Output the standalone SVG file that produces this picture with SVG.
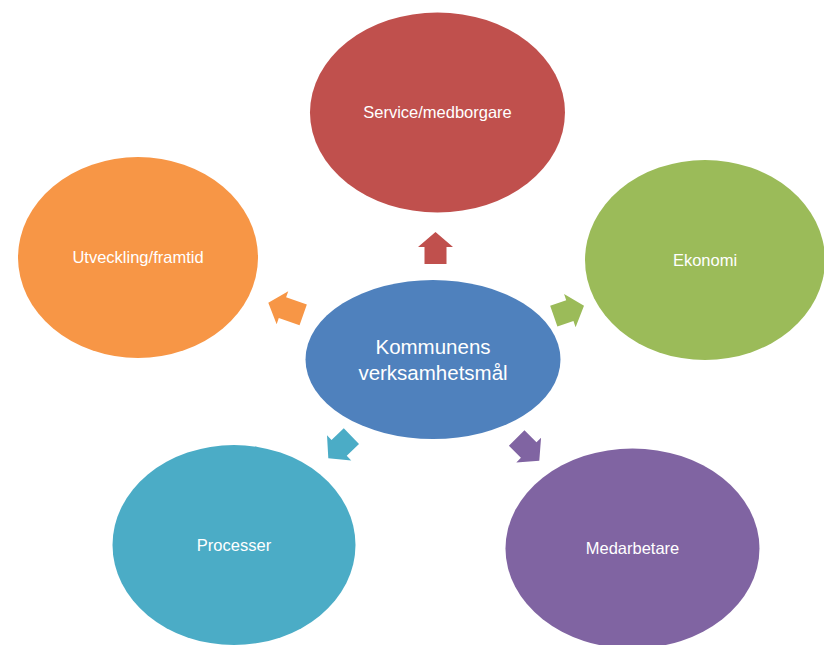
<svg xmlns="http://www.w3.org/2000/svg" xmlns:xlink="http://www.w3.org/1999/xlink" width="824" height="645" viewBox="0 0 824 645">
  <style>
    .lbl { font-family: "Liberation Sans", Arial, sans-serif; font-size: 16.5px; fill: #ffffff; text-anchor: middle; }
    .big { font-size: 20.5px; }
  </style>
  <defs>
    <path id="arr" d="M0,0 L17.5,15 L11,15 L11,32 L-11,32 L-11,15 L-17.5,15 Z"/>
    <path id="arrL" d="M0,0 L17.5,15 L11,15 L11,37 L-11,37 L-11,15 L-17.5,15 Z"/>
  </defs>
  <rect width="824" height="645" fill="#ffffff"/>

  <g id="service">
    <ellipse cx="437.5" cy="112.5" rx="127.5" ry="100" fill="#C0504D"/>
    <text class="lbl" x="437.5" y="118">Service/medborgare</text>
  </g>
  <g id="utveckling">
    <ellipse cx="138" cy="257.5" rx="120" ry="100.5" fill="#F79646"/>
    <text class="lbl" x="138" y="263">Utveckling/framtid</text>
  </g>
  <g id="ekonomi">
    <ellipse cx="705" cy="260" rx="120" ry="100" fill="#9BBB59"/>
    <text class="lbl" x="705" y="266">Ekonomi</text>
  </g>
  <g id="processer">
    <ellipse cx="234" cy="545" rx="121.5" ry="100" fill="#4BACC6"/>
    <text class="lbl" x="234" y="551">Processer</text>
  </g>
  <g id="medarbetare">
    <ellipse cx="632.5" cy="548.5" rx="127" ry="100" fill="#8064A2"/>
    <text class="lbl" x="632.5" y="554">Medarbetare</text>
  </g>
  <g id="center">
    <ellipse cx="433" cy="359.5" rx="127.5" ry="79.5" fill="#4F81BD"/>
    <text class="lbl big" x="433" y="354">Kommunens</text>
    <text class="lbl big" x="433" y="379.5">verksamhetsmål</text>
  </g>

  <g id="connectors">
    <use xlink:href="#arr" transform="translate(435.5,232)" fill="#C0504D"/>
    <use xlink:href="#arr" transform="translate(584,305.7) rotate(70.8)" fill="#9BBB59"/>
    <use xlink:href="#arrL" transform="translate(268.3,302.7) rotate(-70.6)" fill="#F79646"/>
    <use xlink:href="#arr" transform="translate(328.3,458.3) rotate(-133.8)" fill="#4BACC6"/>
    <use xlink:href="#arr" transform="translate(539.3,460.7) rotate(135)" fill="#8064A2"/>
  </g>
</svg>
